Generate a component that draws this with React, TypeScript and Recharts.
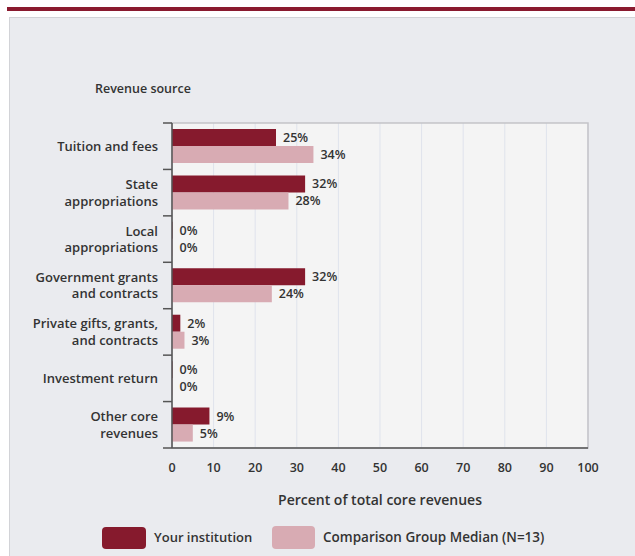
import { BarChart, Bar, XAxis, YAxis, CartesianGrid, LabelList, ReferenceArea } from "recharts"

const categories = [
  "Tuition and fees",
  "State\nappropriations",
  "Local\nappropriations",
  "Government grants\nand contracts",
  "Private gifts, grants,\nand contracts",
  "Investment return",
  "Other core\nrevenues",
]
const yourInstitution = [25, 32, 0, 32, 2, 0, 9]
const comparisonMedian = [34, 28, 0, 24, 3, 0, 5]
const xTicks = [0, 10, 20, 30, 40, 50, 60, 70, 80, 90, 100]

const data = categories.map((name, i) => ({
  name,
  yours: yourInstitution[i],
  median: comparisonMedian[i],
}))

const DARK = "#861a2d"
const LIGHT = "#d8abb3"
const TEXT = "#333"
const FONT = "'Open Sans', 'DejaVu Sans', sans-serif"
const WEIGHT = 600

const CHART_W = 635
const CHART_H = 556
const MARGIN = { top: 123, right: 47, bottom: 78, left: 0 }
const Y_AXIS_W = 172
const X_AXIS_H = 30
const BAND = (CHART_H - MARGIN.top - MARGIN.bottom - X_AXIS_H) / categories.length

function CategoryTick(props: any) {
  const { x, y, payload, index } = props
  const lines = String(payload.value).split("\n")
  const lh = 16.5
  const y0 = y - ((lines.length - 1) * lh) / 2
  const axisX = Y_AXIS_W + MARGIN.left
  return (
    <g>
      <line x1={axisX - 9} x2={axisX} y1={y - BAND / 2} y2={y - BAND / 2} stroke="#555" strokeWidth={1.5} />
      {index === categories.length - 1 && (
        <line x1={axisX - 9} x2={axisX} y1={y + BAND / 2} y2={y + BAND / 2} stroke="#555" strokeWidth={1.5} />
      )}
      <text x={x} y={y0} textAnchor="end" fill={TEXT} fontSize={13} fontWeight={WEIGHT} fontFamily={FONT}>
        {lines.map((l, i) => (
          <tspan key={i} x={x} y={y0 + i * lh} dy="0.36em">
            {l}
          </tspan>
        ))}
      </text>
    </g>
  )
}

const labelProps = {
  position: "right" as const,
  offset: 7,
  formatter: (v: any) => `${v}%`,
  fill: TEXT,
  fontSize: 12.5,
  fontWeight: WEIGHT,
  fontFamily: FONT,
}

export default function App() {
  return (
    <div style={{ position: "absolute", left: 0, top: 0, width: CHART_W, height: CHART_H, fontFamily: FONT, background: "#fff", overflow: "hidden" }}>
      <div style={{ position: "absolute", left: 7, top: 7, width: 628, height: 4, background: "#8a1a2f" }} />
      <div
        style={{
          position: "absolute",
          left: 9,
          top: 17,
          width: 640,
          height: 545,
          background: "#eaebef",
          border: "1px solid #d2d3d7",
        }}
      />
      <div style={{ position: "absolute", left: 95, top: 80, fontSize: 12.5, fontWeight: WEIGHT, color: TEXT }}>
        Revenue source
      </div>
      <div style={{ position: "absolute", left: 0, top: 0 }}>
        <BarChart
          width={CHART_W}
          height={CHART_H}
          data={data}
          layout="vertical"
          margin={MARGIN}
          barCategoryGap={6}
          barGap={0}
        >
          <CartesianGrid horizontal={false} stroke="#dfe3ec" fill="#f4f4f4" />
          <ReferenceArea x1={0} x2={100} fill="none" stroke="#c4c4c8" strokeWidth={1.5} />
          <XAxis
            type="number"
            domain={[0, 100]}
            ticks={xTicks}
            height={X_AXIS_H}
            tickLine={false}
            tickSize={0}
            tickMargin={15}
            axisLine={{ stroke: "#555", strokeWidth: 1.5 }}
            tick={{ fill: TEXT, fontSize: 12.5, fontWeight: WEIGHT, fontFamily: FONT }}
            label={{
              value: "Percent of total core revenues",
              position: "bottom",
              offset: 17,
              fill: TEXT,
              fontSize: 14,
              fontWeight: WEIGHT,
              fontFamily: FONT,
            }}
          />
          <YAxis
            type="category"
            dataKey="name"
            width={Y_AXIS_W}
            tickLine={false}
            tickSize={0}
            tickMargin={14}
            axisLine={{ stroke: "#555", strokeWidth: 1.5 }}
            tick={<CategoryTick />}
            interval={0}
          />
          <Bar dataKey="yours" fill={DARK} minPointSize={0.5} isAnimationActive={false}>
            <LabelList dataKey="yours" {...labelProps} />
          </Bar>
          <Bar dataKey="median" fill={LIGHT} minPointSize={0.5} isAnimationActive={false}>
            <LabelList dataKey="median" {...labelProps} />
          </Bar>
        </BarChart>
      </div>
      <div style={{ position: "absolute", left: 102, top: 527, width: 44, height: 22, background: DARK, borderRadius: 4 }} />
      <div style={{ position: "absolute", left: 154, top: 528, fontSize: 13, fontWeight: WEIGHT, color: TEXT }}>Your institution</div>
      <div style={{ position: "absolute", left: 272, top: 526, width: 43, height: 23, background: LIGHT, borderRadius: 4 }} />
      <div style={{ position: "absolute", left: 323, top: 528, fontSize: 13.5, fontWeight: WEIGHT, color: TEXT }}>
        Comparison Group Median (N=13)
      </div>
    </div>
  )
}
